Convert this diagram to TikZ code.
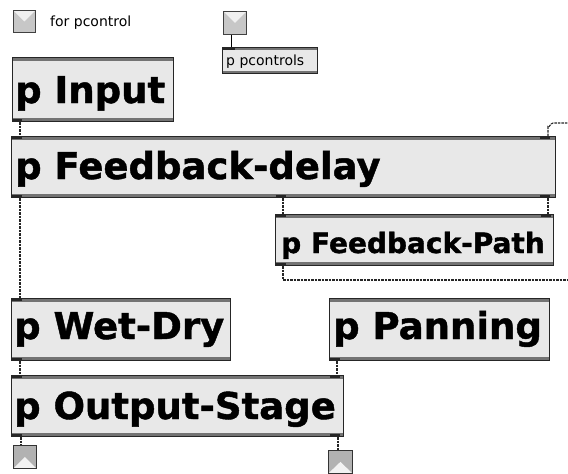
\documentclass[tikz,border=0pt]{standalone}
\usepackage{fontspec}
\setmainfont{DejaVu Sans}
\newfontfamily\heavyfont[FakeBold=1.2]{DejaVu Sans Bold}
\begin{document}
\begin{tikzpicture}[x=1pt,y=-1pt,
  objbox/.style={draw=black!85, line width=1pt, fill=black!9, anchor=north west, inner sep=0pt,
    path picture={
      \fill[black!55] ([yshift=-0.5pt]path picture bounding box.north west) rectangle ([yshift=-3.5pt]path picture bounding box.north east);
      \fill[black!55] ([yshift=0.5pt]path picture bounding box.south west) rectangle ([yshift=3.5pt]path picture bounding box.south east);
    }},
  smallbox/.style={draw=black!85, line width=0.8pt, fill=black!9, anchor=north west, inner sep=0pt,
    path picture={
      \fill[black!55] ([yshift=-0.4pt]path picture bounding box.north west) rectangle ([yshift=-2.4pt]path picture bounding box.north east);
      \fill[black!55] ([yshift=0.4pt]path picture bounding box.south west) rectangle ([yshift=2.4pt]path picture bounding box.south east);
    }},
  togbox/.style={draw=black!75, line width=0.8pt, fill=black!22, anchor=north west, inner sep=0pt,
    minimum width=22pt, minimum height=22pt,
    path picture={
      \fill[black!6] (path picture bounding box.north west) -- (path picture bounding box.north east) -- (path picture bounding box.center) -- cycle;
    }},
  outbox/.style={draw=black!80, line width=0.8pt, fill=black!30, anchor=north west, inner sep=0pt,
    minimum width=23pt, minimum height=23pt,
    path picture={
      \fill[black!5] (path picture bounding box.south west) -- (path picture bounding box.south east) -- (path picture bounding box.center) -- cycle;
    }},
  bigtxt/.style={anchor=base west, inner sep=0pt, font=\heavyfont\fontsize{37}{40}\selectfont},
  midtxt/.style={anchor=base west, inner sep=0pt, font=\heavyfont\fontsize{28}{31}\selectfont},
  smalltxt/.style={anchor=base west, inner sep=0pt, font=\fontsize{14}{16}\selectfont},
  sig/.style={draw=black!85, line width=1.1pt, dash pattern=on 2.5pt off 1pt},
  ctl/.style={draw=black, line width=1pt},
  port/.style={fill=black!85}
]
\useasboundingbox (0,0) rectangle (568,474);
\fill[white] (0,0) rectangle (568,474);

% toggles and small objects
\node[togbox] (tog1) at (13,10) {};
\node[smalltxt] (tog1-t) at (50,26) {for pcontrol};
\node[togbox, minimum width=23pt, minimum height=23pt] (tog2) at (223,11) {};
\node[smallbox, minimum width=95pt, minimum height=26pt] (pctl) at (222,47) {};
\node[smalltxt] (pctl-t) at (226,65) {p pcontrols};

% big objects
\node[objbox, minimum width=161pt, minimum height=64pt] (input) at (12,57) {};
\node[bigtxt] (input-t) at (15,103) {p Input};

\node[objbox, minimum width=544pt, minimum height=61pt] (fbd) at (11,136) {};
\node[bigtxt] (fbd-t) at (15,179) {p Feedback-delay};

\node[objbox, minimum width=278pt, minimum height=51pt] (fbp) at (275,214) {};
\node[midtxt] (fbp-t) at (281,253) {p Feedback-Path};

\node[objbox, minimum width=219pt, minimum height=62pt] (wet) at (11,298) {};
\node[bigtxt] (wet-t) at (14,339) {p Wet-Dry};

\node[objbox, minimum width=220pt, minimum height=62pt] (pan) at (329,298) {};
\node[bigtxt] (pan-t) at (333,339) {p Panning};

\node[objbox, minimum width=332pt, minimum height=61pt] (out) at (11,375) {};
\node[bigtxt] (out-t) at (14,419) {p Output-Stage};

\node[outbox] (o1) at (13,445) {};
\node[outbox, minimum width=24pt] (o2) at (328,450) {};

% free ends
\coordinate (fbend) at (568,280);
\coordinate (topend) at (568,123);

% ports (inlet / outlet marks)
\foreach \x/\y in {12/119,12/136,12/195,12/298,12/358,12/375,12/434,
                   276/195,276/214,276/263,540/136,540/195,541/214,
                   330/358,330/375,330/434}
  \fill[port] (\x,\y) rectangle ++(10,2.5);
\fill[port] (223,47) rectangle ++(12,2.5);

% connectors
\draw[ctl] (tog2.south -| 231,0) -- (pctl.north -| 231,0);
\draw[sig] (input.south -| 20,0) -- (fbd.north -| 20,0);
\draw[sig] (fbd.south -| 20,0) -- (wet.north -| 20,0);
\draw[sig] (fbd.south -| 283,0) -- (fbp.north -| 283,0);
\draw[sig] (fbd.south -| 548,0) -- (fbp.north -| 548,0);
\draw[sig] (fbp.south -| 283,0) -- (283,280) -- (fbend);
\draw[sig] (fbd.north -| 548,0) -- (548,127) to[out=-90,in=180] (553,123) -- (topend);
\draw[sig] (wet.south -| 20,0) -- (out.north -| 20,0);
\draw[sig] (pan.south -| 337,0) -- (out.north -| 337,0);
\draw[sig] (out.south -| 21,0) -- (o1.north -| 21,0);
\draw[sig] (out.south -| 338,0) -- (o2.north -| 338,0);
\end{tikzpicture}
\end{document}
